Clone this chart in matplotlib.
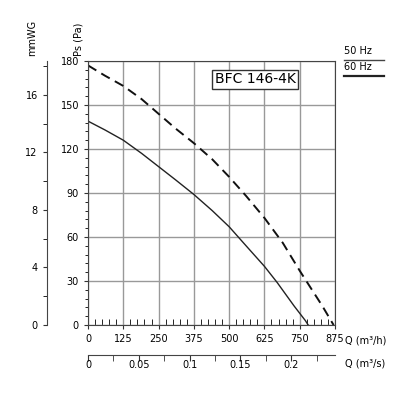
import numpy as np
import matplotlib.pyplot as plt

q_solid = [0, 60, 125, 190, 250, 310, 375, 440, 500, 560, 625, 670, 700, 730, 750, 770, 780]
ps_solid = [139, 133, 126, 117, 108, 99, 89, 78, 67, 54, 40, 29, 21, 13, 8, 3, 0]
q_dash = [0, 60, 125, 190, 250, 310, 375, 440, 500, 560, 625, 690, 750, 790, 830, 870]
ps_dash = [177, 170, 163, 154, 144, 134, 124, 113, 101, 88, 73, 56, 37, 25, 13, 0]
x_ticks = [0, 125, 250, 375, 500, 625, 750, 875]
y_ticks = [0, 30, 60, 90, 120, 150, 180]
mm_ticks = [0, 4, 8, 12, 16]
qs_ticks = [0, 0.05, 0.1, 0.15, 0.2]

fig = plt.figure(figsize=(4, 4), dpi=100)
ax = fig.add_axes([0.22, 0.1875, 0.6175, 0.66])
ax.plot(q_solid, ps_solid, color='#222222', lw=1.0)
ax.plot(q_dash, ps_dash, color='#111111', lw=1.4, ls=(0, (5, 3)))
ax.set_xlim(0, 875)
ax.set_ylim(0, 180)
ax.set_xticks(x_ticks)
ax.set_yticks(y_ticks)
ax.set_xticks(np.arange(0, 876, 25), minor=True)
ax.set_yticks(np.arange(0, 181, 6), minor=True)
ax.grid(True, color='#999999', lw=1.0)
ax.tick_params(labelsize=7, length=3, color='#333')
ax.tick_params(axis='x', which='minor', direction='in', length=4)
ax.tick_params(axis='y', which='minor', length=2)
for s in ax.spines.values():
    s.set_color('#444')
ax.text(1.04, -0.06, 'Q (m³/h)', transform=ax.transAxes, fontsize=7, va='center', ha='left')
ax.text(-0.02, 1.02, 'Ps (Pa)', transform=ax.transAxes, fontsize=7, rotation=90, ha='right', va='bottom')
ax.text(0.84, 0.93, 'BFC 146-4K', transform=ax.transAxes, fontsize=10, ha='right', va='center',
        bbox=dict(facecolor='white', edgecolor='#333', pad=2))

# mmWG axis
ax2 = fig.add_axes([0.117, 0.1875, 0.001, 0.66])
ax2.set_ylim(0, 180 / 9.80665)
ax2.set_yticks(mm_ticks)
ax2.set_yticks(np.arange(0, 18.1, 2), minor=True)
ax2.tick_params(labelsize=7, length=3, color='#333')
ax2.tick_params(axis='y', which='minor', length=3)
ax2.set_xticks([])
for k in ['top', 'bottom', 'right']:
    ax2.spines[k].set_visible(False)
ax2.spines['left'].set_color('#444')
ax2.text(-25, 1.02, 'mmWG', transform=ax2.transAxes, fontsize=7, rotation=90, ha='right', va='bottom')

# m3/s axis
ax3 = fig.add_axes([0.22, 0.1125, 0.6175, 0.001])
ax3.set_xlim(0, 875 / 3600)
ax3.set_xticks(qs_ticks)
ax3.set_xticks(np.arange(0, 0.243, 0.025), minor=True)
ax3.set_xticklabels(['0', '0.05', '0.1', '0.15', '0.2'])
ax3.set_yticks([])
ax3.tick_params(axis='x', which='both', labelsize=7, length=4, direction='in', color='#333',
                labelbottom=True, labeltop=False, bottom=False, top=True)
for k in ['bottom', 'left', 'right']:
    ax3.spines[k].set_visible(False)
ax3.spines['top'].set_color('#444')
ax3.text(1.04, -20, 'Q (m³/s)', transform=ax3.transAxes, fontsize=7, va='center', ha='left')

# legend lines
fig.text(0.86, 0.865, '50 Hz', fontsize=7)
fig.add_artist(plt.Line2D([0.86, 0.96], [0.85, 0.85], color='#444', lw=1.0))
fig.text(0.86, 0.825, '60 Hz', fontsize=7)
fig.add_artist(plt.Line2D([0.86, 0.96], [0.81, 0.81], color='#222', lw=1.6))

fig.savefig('out.png', dpi=100, facecolor='white')
